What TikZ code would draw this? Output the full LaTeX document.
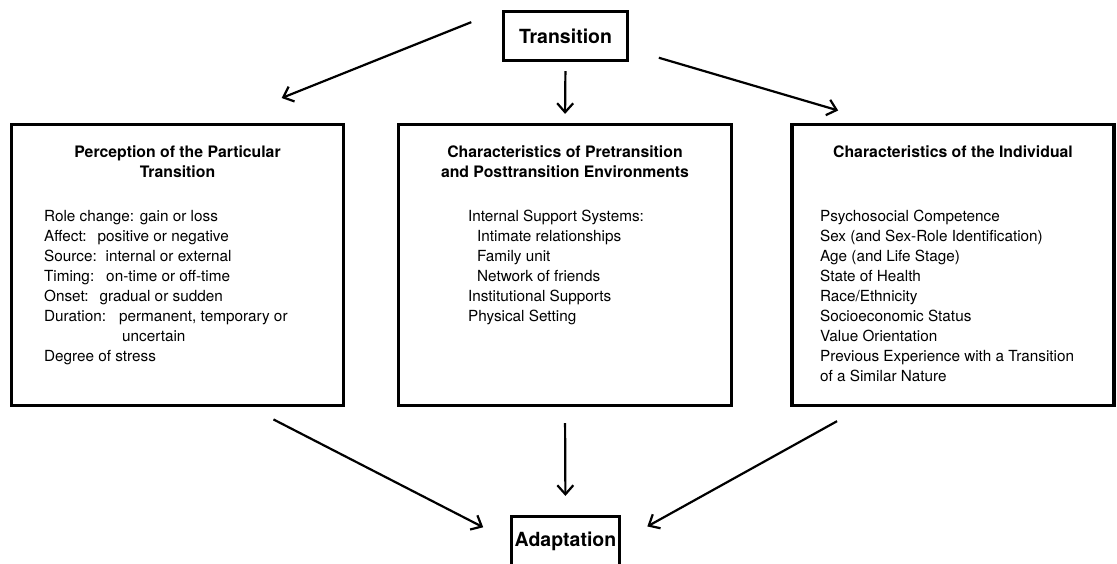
\documentclass[tikz,border=0pt]{standalone}
\usepackage{fontspec}
\setmainfont{TeX Gyre Heros}
\usetikzlibrary{arrows.meta,positioning,calc}

\begin{document}
\begin{tikzpicture}[x=1pt,y=-1pt,>={Straight Barb[length=9pt,width=16pt]},
        box/.style={draw,line width=3.2pt,inner sep=0pt},
        headbox/.style={box,minimum width=124pt,minimum height=49pt,font=\bfseries\fontsize{19.5}{22}\selectfont},
        title/.style={inner sep=0pt,align=center,font=\bfseries\fontsize{15.8}{19.5}\selectfont},
        body/.style={inner sep=0pt,align=left,font=\fontsize{15.3}{20}\selectfont},
        arr/.style={->,line width=2.2pt}]
        \useasboundingbox (0,0) rectangle (1117,563);

        % top and bottom boxes
        \node[headbox] (trans) at (565.5,36) {Transition};
        \node[headbox,minimum width=108pt] (adapt) at (565.5,541) {Adaptation};

        % the three middle boxes
        \node[box,minimum width=332pt,minimum height=281pt] (perc) at (177.5,265) {};
        \node[box,minimum width=333pt,minimum height=281pt] (envir) at (565,265) {};
        \node[box,minimum width=322pt,minimum height=281pt] (indiv) at (953,265) {};

        \node[title,below=23pt of perc.north] (perctitle) {Perception of the Particular\\Transition};
        \node[title,below=23pt of envir.north] (envirtitle) {Characteristics of Pretransition\\and Posttransition Environments};
        \node[title,below=23pt of indiv.north] (indivtitle) {Characteristics of the Individual};

        \node[body,below right=87pt and 34pt of perc.north west] (perclist) {Role change: gain or loss\\
            Affect:\hspace{11pt}positive or negative\\
            Source:\hspace{9pt}internal or external\\
            Timing:\hspace{12pt}on-time or off-time\\
            Onset:\hspace{11pt}gradual or sudden\\
            Duration:\hspace{13pt}permanent, temporary or\\
            \hspace*{78pt}uncertain\\
            Degree of stress};
        \node[body,below right=87pt and 71pt of envir.north west] (envirlist) {Internal Support Systems:\\
            \hspace*{9pt}Intimate relationships\\
            \hspace*{9pt}Family unit\\
            \hspace*{9pt}Network of friends\\
            Institutional Supports\\
            Physical Setting};
        \node[body,below right=87pt and 29.5pt of indiv.north west] (indivlist) {Psychosocial Competence\\
            Sex (and Sex-Role Identification)\\
            Age (and Life Stage)\\
            State of Health\\
            Race/Ethnicity\\
            Socioeconomic Status\\
            Value Orientation\\
            Previous Experience with a Transition\\
            of a Similar Nature};

        % connectors
        \draw[arr,shorten <=33pt,shorten >=67pt] (trans.north west) -- ($(perc.north)+(42,0)$);
        \draw[arr,shorten <=9pt,shorten >=9pt] (trans.south) -- (envir.north);
        \draw[arr,shorten <=31pt,shorten >=44pt] ($(trans.east)+(0,13)$) -- ($(indiv.north west)+(90,0)$);

        \draw[arr,shorten <=27pt,shorten >=30pt] ($(perc.south)+(72,0)$) -- (adapt.west);
        \draw[arr,shorten <=16pt,shorten >=19pt] (envir.south) -- (adapt.north);
        \draw[arr,shorten <=29pt,shorten >=30pt] ($(indiv.south west)+(72,0)$) -- (adapt.east);
    \end{tikzpicture}
\end{document}
